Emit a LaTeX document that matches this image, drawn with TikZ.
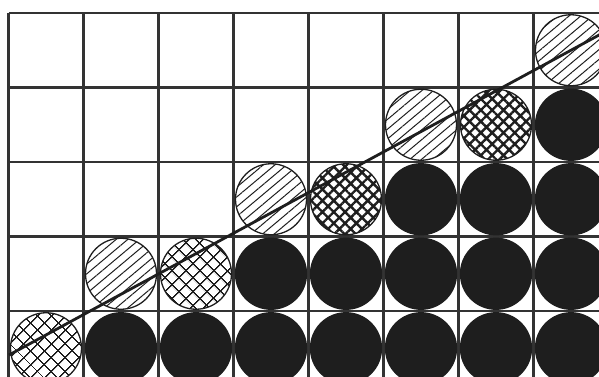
\documentclass[tikz,border=0pt]{standalone}
\usetikzlibrary{patterns.meta}
\definecolor{gridc}{HTML}{333333}
\definecolor{ink}{HTML}{1E1E1E}
\begin{document}
\begin{tikzpicture}[x=1pt,y=-1pt,
  disc/.style={circle,minimum size=71pt,inner sep=0pt,draw=ink,line width=1.3pt},
  solid disc/.style={disc,fill=ink},
  lined disc/.style={disc,pattern={Lines[angle=40,distance=7.5pt,line width=1pt]},pattern color=ink},
  coarse disc/.style={disc,pattern={Hatch[angle=45,distance=10.5pt,line width=1.4pt]},pattern color=ink},
  fine disc/.style={disc,pattern={Hatch[angle=45,distance=8pt,line width=2.4pt]},pattern color=ink},
  gridline/.style={draw=gridc,line width=2.4pt},
  slope/.style={draw=ink,line width=2.8pt}]
\useasboundingbox (0,0) rectangle (599,376);
\clip (0,0) rectangle (599,376);
% grid
\foreach \k in {0,...,5} {
  \draw[gridline] (8.5,13+74.5*\k) -- (620,13+74.5*\k);
}
\foreach \k in {0,...,7} {
  \draw[gridline] (8.5+75*\k,13) -- (8.5+75*\k,400);
}
% discs: row 1
\node[lined disc] (d18) at (571,50.25) {};
% row 2
\node[lined disc] (d26) at (421,124.75) {};
\node[fine disc] (d27) at (496,124.75) {};
\node[solid disc] (d28) at (571,124.75) {};
% row 3
\node[lined disc] (d34) at (271,199.25) {};
\node[fine disc] (d35) at (346,199.25) {};
\foreach \c in {6,7,8} {
  \node[solid disc] (d3\c) at (46+75*\c-75,199.25) {};
}
% row 4
\node[lined disc] (d42) at (121,273.75) {};
\node[coarse disc] (d43) at (196,273.75) {};
\foreach \c in {4,...,8} {
  \node[solid disc] (d4\c) at (46+75*\c-75,273.75) {};
}
% row 5
\node[coarse disc] (d51) at (46,348.25) {};
\foreach \c in {2,...,8} {
  \node[solid disc] (d5\c) at (46+75*\c-75,348.25) {};
}
% sloping line
\coordinate (ls) at (9,355);
\coordinate (le) at (612,28);
\draw[slope] (ls) -- (le);
\end{tikzpicture}
\end{document}
